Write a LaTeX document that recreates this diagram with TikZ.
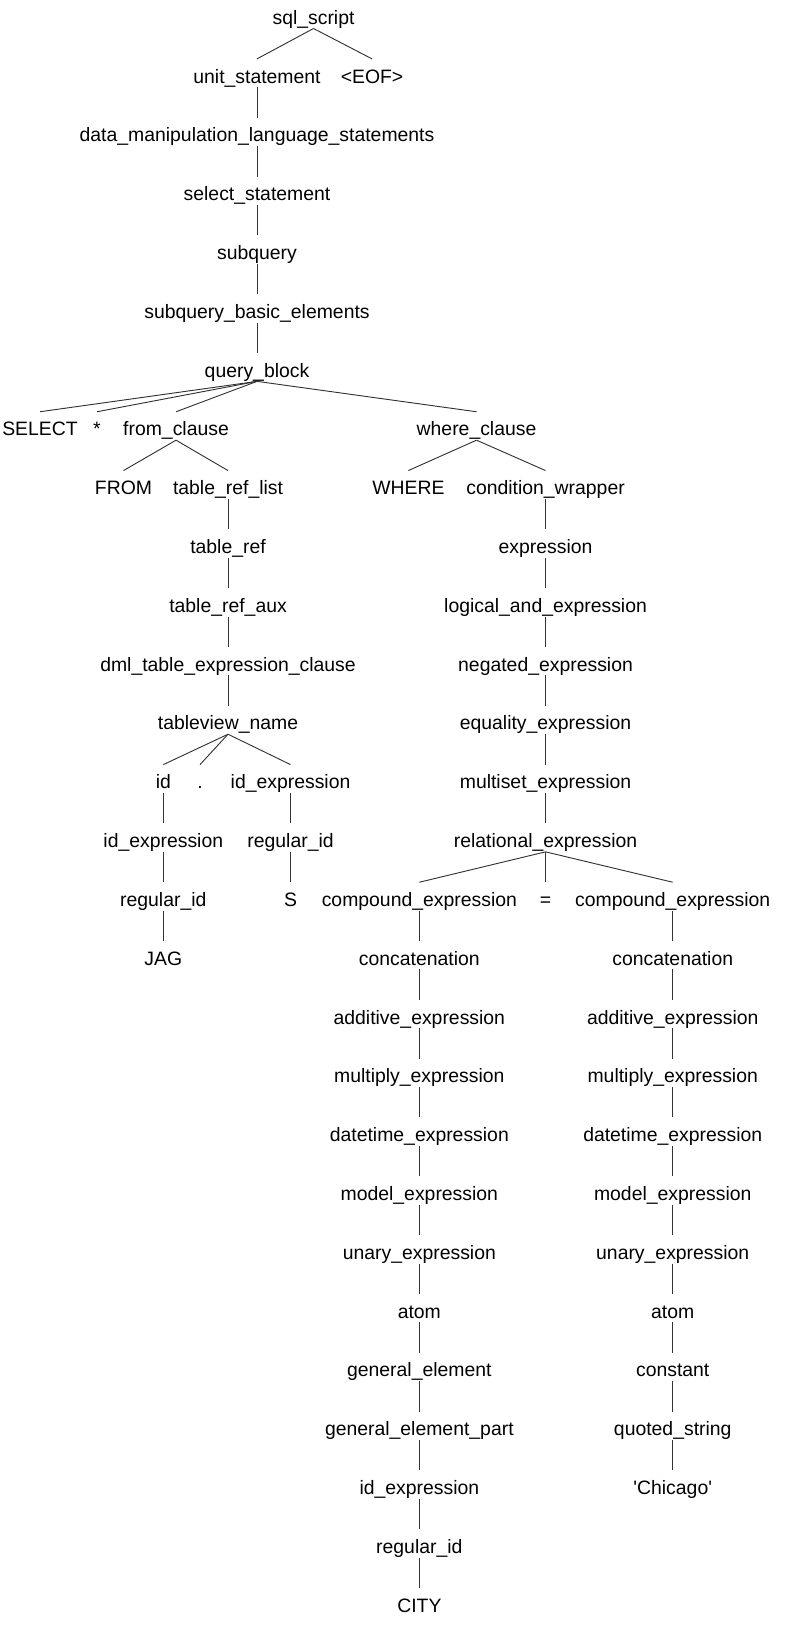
\documentclass[tikz,border=0pt]{standalone}
\usepackage{fontspec}
\setmainfont{Liberation Sans}
\begin{document}
\begin{tikzpicture}[node distance=1.556cm]
                \tikzset{ tok/.style={inner sep=0pt,text height=18pt,text depth=3pt,font=\fontsize{14.6pt}{17pt}\selectfont},
                        branch/.style={draw=black!80, line width=0.7pt}}
                \useasboundingbox (-8.295,0.378) rectangle (12.475,-43.013);
                \node[tok] (ss) {sql\_script};
                \node[tok, below of = ss, xshift=-1.495cm] (us) {unit\_statement};
                \node[tok, below of = ss, xshift=1.548cm] (eof) {<EOF>};
                \node[tok, below of = us] (dml) {data\_manipulation\_language\_statements};
                \node[tok, below of = dml] (sel) {select\_statement};
                \node[tok, below of = sel] (subq) {subquery};
                \node[tok, below of = subq] (sbe) {subquery\_basic\_elements};
                \node[tok, below of = sbe] (qb) {query\_block};
                \node[tok, below of = qb, xshift=-5.741cm] (kwsel) {SELECT};
                \node[tok, below of = qb, xshift=-4.233cm] (star) {*};
                \node[tok, below of = qb, xshift=-2.143cm] (from) {from\_clause};
                \node[tok, below of = qb, xshift=5.808cm] (where) {where\_clause};

                % FROM
                \node[tok, below of = from, xshift=-1.389cm] (kwfrom) {FROM};
                \node[tok, below of = from, xshift=1.376cm] (trl) {table\_ref\_list};
                \node[tok, below of = trl] (tr) {table\_ref};
                \node[tok, below of = tr] (tra) {table\_ref\_aux};
                \node[tok, below of = tra] (dtec) {dml\_table\_expression\_clause};
                \node[tok, below of = dtec] (tvn) {tableview\_name};
                \node[tok, below of = tvn, xshift=-1.712cm] (id) {id};
                \node[tok, below of = tvn, xshift=-0.741cm] (dot) {.};
                \node[tok, below of = tvn, xshift=1.654cm] (idx) {id\_expression};
                \node[tok, below of = id] (idxa) {id\_expression};
                \node[tok, below of = idxa] (rida) {regular\_id};
                \node[tok, below of = rida] (jag) {JAG};
                \node[tok, below of = idx] (ridb) {regular\_id};
                \node[tok, below of = ridb] (s) {S};

                % WHERE
                \node[tok, below of = where, xshift=-1.804cm] (kwwhere) {WHERE};
                \node[tok, below of = where, xshift=1.826cm] (cw) {condition\_wrapper};
                \node[tok, below of = cw] (expr) {expression};
                \node[tok, below of = expr] (land) {logical\_and\_expression};
                \node[tok, below of = land] (neg) {negated\_expression};
                \node[tok, below of = neg] (eqx) {equality\_expression};
                \node[tok, below of = eqx] (mset) {multiset\_expression};
                \node[tok, below of = mset] (rel) {relational\_expression};
                \node[tok, below of = rel, xshift=-3.339cm] (cl) {compound\_expression};
                \node[tok, below of = rel] (eq) {=};
                \node[tok, below of = rel, xshift=3.365cm] (cr) {compound\_expression};

                % gauche
                \node[tok, below of = cl] (cla) {concatenation};
                \node[tok, below of = cla] (clb) {additive\_expression};
                \node[tok, below of = clb] (clc) {multiply\_expression};
                \node[tok, below of = clc] (cld) {datetime\_expression};
                \node[tok, below of = cld] (cle) {model\_expression};
                \node[tok, below of = cle] (clf) {unary\_expression};
                \node[tok, below of = clf] (clg) {atom};
                \node[tok, below of = clg] (clh) {general\_element};
                \node[tok, below of = clh] (cli) {general\_element\_part};
                \node[tok, below of = cli] (clj) {id\_expression};
                \node[tok, below of = clj] (clk) {regular\_id};
                \node[tok, below of = clk] (city) {CITY};

                % droite
                \node[tok, below of = cr] (cra) {concatenation};
                \node[tok, below of = cra] (crb) {additive\_expression};
                \node[tok, below of = crb] (crc) {multiply\_expression};
                \node[tok, below of = crc] (crd) {datetime\_expression};
                \node[tok, below of = crd] (cre) {model\_expression};
                \node[tok, below of = cre] (crf) {unary\_expression};
                \node[tok, below of = crf] (crg) {atom};
                \node[tok, below of = crg] (crh) {constant};
                \node[tok, below of = crh] (cri) {quoted\_string};
                \node[tok, below of = cri] (chicago) {\textquotesingle Chicago\textquotesingle};

                % Branches
                \draw[branch] (ss.south) -- (us.north);
                \draw[branch] (ss.south) -- (eof.north);
                \draw[branch] (us.south) -- (dml.north);
                \draw[branch] (dml.south) -- (sel.north);
                \draw[branch] (sel.south) -- (subq.north);
                \draw[branch] (subq.south) -- (sbe.north);
                \draw[branch] (sbe.south) -- (qb.north);
                \draw[branch] (qb.south) -- (kwsel.north);
                \draw[branch] (qb.south) -- (star.north);
                \draw[branch] (qb.south) -- (from.north);
                \draw[branch] (qb.south) -- (where.north);
                \draw[branch] (from.south) -- (kwfrom.north);
                \draw[branch] (from.south) -- (trl.north);
                \draw[branch] (trl.south) -- (tr.north);
                \draw[branch] (tr.south) -- (tra.north);
                \draw[branch] (tra.south) -- (dtec.north);
                \draw[branch] (dtec.south) -- (tvn.north);
                \draw[branch] (tvn.south) -- (id.north);
                \draw[branch] (tvn.south) -- (dot.north);
                \draw[branch] (tvn.south) -- (idx.north);
                \draw[branch] (id.south) -- (idxa.north);
                \draw[branch] (idxa.south) -- (rida.north);
                \draw[branch] (rida.south) -- (jag.north);
                \draw[branch] (idx.south) -- (ridb.north);
                \draw[branch] (ridb.south) -- (s.north);
                \draw[branch] (where.south) -- (kwwhere.north);
                \draw[branch] (where.south) -- (cw.north);
                \draw[branch] (cw.south) -- (expr.north);
                \draw[branch] (expr.south) -- (land.north);
                \draw[branch] (land.south) -- (neg.north);
                \draw[branch] (neg.south) -- (eqx.north);
                \draw[branch] (eqx.south) -- (mset.north);
                \draw[branch] (mset.south) -- (rel.north);
                \draw[branch] (rel.south) -- (cl.north);
                \draw[branch] (rel.south) -- (eq.north);
                \draw[branch] (rel.south) -- (cr.north);
                \draw[branch] (cl.south) -- (cla.north);
                \draw[branch] (cla.south) -- (clb.north);
                \draw[branch] (clb.south) -- (clc.north);
                \draw[branch] (clc.south) -- (cld.north);
                \draw[branch] (cld.south) -- (cle.north);
                \draw[branch] (cle.south) -- (clf.north);
                \draw[branch] (clf.south) -- (clg.north);
                \draw[branch] (clg.south) -- (clh.north);
                \draw[branch] (clh.south) -- (cli.north);
                \draw[branch] (cli.south) -- (clj.north);
                \draw[branch] (clj.south) -- (clk.north);
                \draw[branch] (clk.south) -- (city.north);
                \draw[branch] (cr.south) -- (cra.north);
                \draw[branch] (cra.south) -- (crb.north);
                \draw[branch] (crb.south) -- (crc.north);
                \draw[branch] (crc.south) -- (crd.north);
                \draw[branch] (crd.south) -- (cre.north);
                \draw[branch] (cre.south) -- (crf.north);
                \draw[branch] (crf.south) -- (crg.north);
                \draw[branch] (crg.south) -- (crh.north);
                \draw[branch] (crh.south) -- (cri.north);
                \draw[branch] (cri.south) -- (chicago.north);

            \end{tikzpicture}
\end{document}
